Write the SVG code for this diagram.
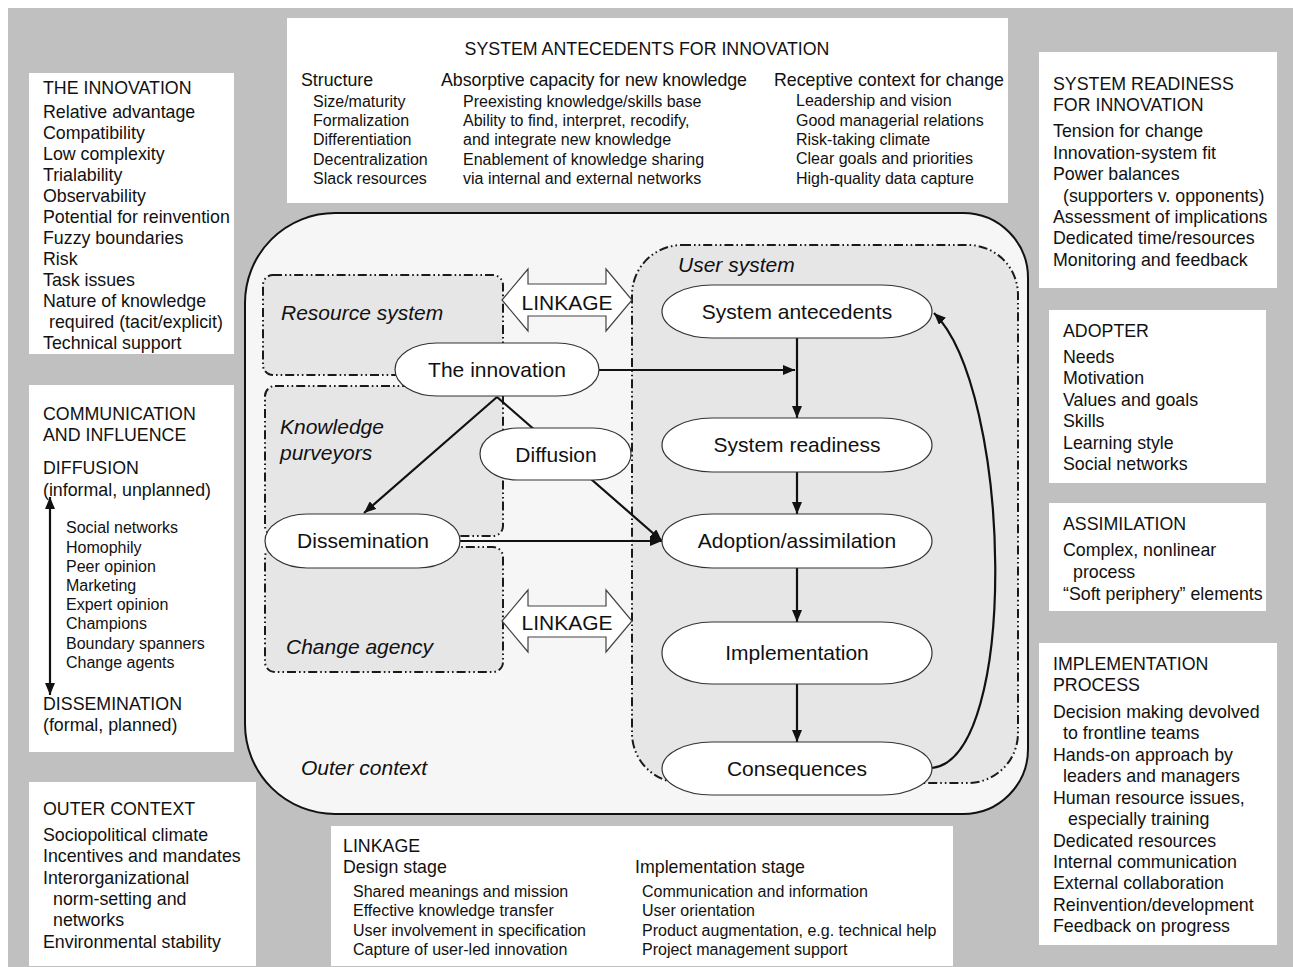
<svg xmlns="http://www.w3.org/2000/svg" width="1293" height="967" viewBox="0 0 1293 967">
<style>
text{font-family:"Liberation Sans",Arial,sans-serif;fill:#111}
.b{font-size:17.8px}
.s{font-size:16px}
.n{font-size:21px}
.i{font-size:21px;font-style:italic}
.box{fill:#fff;stroke:none}
.dd{fill:#e6e6e6;stroke:#1a1a1a;stroke-width:2;stroke-dasharray:9 3 1.6 3 1.6 3}
.pill{fill:#fff;stroke:#333;stroke-width:1.2}
.ar{stroke:#111;stroke-width:2.2;fill:none}
.lk{fill:#fff;stroke:#444;stroke-width:1.2}
</style>
<defs>
<marker id="ah" viewBox="0 0 12 10" refX="12" refY="5" markerWidth="12" markerHeight="10" markerUnits="userSpaceOnUse" orient="auto-start-reverse">
<path d="M0,0 L12,5 L0,10 z" fill="#111"/>
</marker>
</defs>
<rect x="8" y="8" width="1285" height="959" fill="#c0c0c0"/>

<g id="box-innovation">
<rect class="box" x="29" y="73" width="205" height="281"/>
<text class="b" x="43" y="94">THE INNOVATION</text>
<text class="b" x="43" y="118">Relative advantage</text>
<text class="b" x="43" y="139">Compatibility</text>
<text class="b" x="43" y="160">Low complexity</text>
<text class="b" x="43" y="181">Trialability</text>
<text class="b" x="43" y="202">Observability</text>
<text class="b" x="43" y="223">Potential for reinvention</text>
<text class="b" x="43" y="244">Fuzzy boundaries</text>
<text class="b" x="43" y="265">Risk</text>
<text class="b" x="43" y="286">Task issues</text>
<text class="b" x="43" y="307">Nature of knowledge</text>
<text class="b" x="49" y="328">required (tacit/explicit)</text>
<text class="b" x="43" y="349">Technical support</text>
</g>

<g id="box-communication">
<rect class="box" x="29" y="385" width="205" height="367"/>
<text class="b" x="43" y="420">COMMUNICATION</text>
<text class="b" x="43" y="441">AND INFLUENCE</text>
<text class="b" x="43" y="474">DIFFUSION</text>
<text class="b" x="43" y="496">(informal, unplanned)</text>
<text class="s" x="66" y="533">Social networks</text>
<text class="s" x="66" y="553">Homophily</text>
<text class="s" x="66" y="572">Peer opinion</text>
<text class="s" x="66" y="591">Marketing</text>
<text class="s" x="66" y="610">Expert opinion</text>
<text class="s" x="66" y="629">Champions</text>
<text class="s" x="66" y="649">Boundary spanners</text>
<text class="s" x="66" y="668">Change agents</text>
<text class="b" x="43" y="710">DISSEMINATION</text>
<text class="b" x="43" y="731">(formal, planned)</text>
<line class="ar" x1="50" y1="497" x2="50" y2="695" stroke-width="2" marker-start="url(#ah)" marker-end="url(#ah)"/>
</g>

<g id="box-outer-context">
<rect class="box" x="29" y="782" width="227" height="184"/>
<text class="b" x="43" y="815">OUTER CONTEXT</text>
<text class="b" x="43" y="841">Sociopolitical climate</text>
<text class="b" x="43" y="862">Incentives and mandates</text>
<text class="b" x="43" y="884">Interorganizational</text>
<text class="b" x="53" y="905">norm-setting and</text>
<text class="b" x="53" y="926">networks</text>
<text class="b" x="43" y="948">Environmental stability</text>
</g>

<g id="box-antecedents">
<rect class="box" x="287" y="18" width="721" height="185"/>
<text class="b" x="647" y="55" text-anchor="middle">SYSTEM ANTECEDENTS FOR INNOVATION</text>
<text class="b" x="301" y="86">Structure</text>
<text class="b" x="441" y="86" textLength="306">Absorptive capacity for new knowledge</text>
<text class="b" x="774" y="86" textLength="230">Receptive context for change</text>
<text class="s" x="313" y="107">Size/maturity</text>
<text class="s" x="313" y="126">Formalization</text>
<text class="s" x="313" y="145">Differentiation</text>
<text class="s" x="313" y="165">Decentralization</text>
<text class="s" x="313" y="184">Slack resources</text>
<text class="s" x="463" y="107">Preexisting knowledge/skills base</text>
<text class="s" x="463" y="126">Ability to find, interpret, recodify,</text>
<text class="s" x="463" y="145">and integrate new knowledge</text>
<text class="s" x="463" y="165">Enablement of knowledge sharing</text>
<text class="s" x="463" y="184">via internal and external networks</text>
<text class="s" x="796" y="106">Leadership and vision</text>
<text class="s" x="796" y="126">Good managerial relations</text>
<text class="s" x="796" y="145">Risk-taking climate</text>
<text class="s" x="796" y="164">Clear goals and priorities</text>
<text class="s" x="796" y="184">High-quality data capture</text>
</g>

<g id="box-readiness">
<rect class="box" x="1039" y="52" width="238" height="236"/>
<text class="b" x="1053" y="90">SYSTEM READINESS</text>
<text class="b" x="1053" y="111">FOR INNOVATION</text>
<text class="b" x="1053" y="137">Tension for change</text>
<text class="b" x="1053" y="159">Innovation-system fit</text>
<text class="b" x="1053" y="180">Power balances</text>
<text class="b" x="1063" y="202">(supporters v. opponents)</text>
<text class="b" x="1053" y="223">Assessment of implications</text>
<text class="b" x="1053" y="244">Dedicated time/resources</text>
<text class="b" x="1053" y="266">Monitoring and feedback</text>
</g>

<g id="box-adopter">
<rect class="box" x="1049" y="310" width="217" height="173"/>
<text class="b" x="1063" y="337">ADOPTER</text>
<text class="b" x="1063" y="363">Needs</text>
<text class="b" x="1063" y="384">Motivation</text>
<text class="b" x="1063" y="406">Values and goals</text>
<text class="b" x="1063" y="427">Skills</text>
<text class="b" x="1063" y="449">Learning style</text>
<text class="b" x="1063" y="470">Social networks</text>
</g>

<g id="box-assimilation">
<rect class="box" x="1049" y="503" width="217" height="108"/>
<text class="b" x="1063" y="530">ASSIMILATION</text>
<text class="b" x="1063" y="556">Complex, nonlinear</text>
<text class="b" x="1073" y="578">process</text>
<text class="b" x="1063" y="600">“Soft periphery” elements</text>
</g>

<g id="box-implementation">
<rect class="box" x="1039" y="643" width="238" height="302"/>
<text class="b" x="1053" y="670">IMPLEMENTATION</text>
<text class="b" x="1053" y="691">PROCESS</text>
<text class="b" x="1053" y="718">Decision making devolved</text>
<text class="b" x="1063" y="739">to frontline teams</text>
<text class="b" x="1053" y="761">Hands-on approach by</text>
<text class="b" x="1063" y="782">leaders and managers</text>
<text class="b" x="1053" y="804">Human resource issues,</text>
<text class="b" x="1068" y="825">especially training</text>
<text class="b" x="1053" y="847">Dedicated resources</text>
<text class="b" x="1053" y="868">Internal communication</text>
<text class="b" x="1053" y="889">External collaboration</text>
<text class="b" x="1053" y="911">Reinvention/development</text>
<text class="b" x="1053" y="932">Feedback on progress</text>
</g>

<g id="box-linkage">
<rect class="box" x="331" y="826" width="622" height="140"/>
<text class="b" x="343" y="852">LINKAGE</text>
<text class="b" x="343" y="873">Design stage</text>
<text class="s" x="353" y="897">Shared meanings and mission</text>
<text class="s" x="353" y="916">Effective knowledge transfer</text>
<text class="s" x="353" y="936">User involvement in specification</text>
<text class="s" x="353" y="955">Capture of user-led innovation</text>
<text class="b" x="635" y="873">Implementation stage</text>
<text class="s" x="642" y="897">Communication and information</text>
<text class="s" x="642" y="916">User orientation</text>
<text class="s" x="642" y="936">Product augmentation, e.g. technical help</text>
<text class="s" x="642" y="955">Project management support</text>
</g>

<g id="outer-context">
<path d="M335 213 H963 A65 65 0 0 1 1028 278 V749 A65 65 0 0 1 963 814 H335 A90 90 0 0 1 245 724 V303 A90 90 0 0 1 335 213 Z" fill="#f6f6f6" stroke="#111" stroke-width="2"/>
<text class="i" x="301" y="775">Outer context</text>
</g>

<g id="resource-system">
<rect class="dd" x="263" y="275" width="240" height="100" rx="10"/>
<text class="i" x="281" y="320">Resource system</text>
</g>
<g id="knowledge-purveyors">
<rect class="dd" x="265" y="386" width="238" height="150" rx="10"/>
<text class="i" x="280" y="434">Knowledge</text>
<text class="i" x="280" y="460">purveyors</text>
</g>
<g id="change-agency">
<rect class="dd" x="265" y="547" width="238" height="125" rx="10"/>
<text class="i" x="286" y="654">Change agency</text>
</g>
<g id="user-system">
<rect class="dd" x="632" y="245" width="386" height="538" rx="50"/>
<text class="i" x="678" y="272">User system</text>
</g>

<g id="linkage-arrows">
<polygon class="lk" points="502,300 528,269 528,284 606,284 606,269 632,300 606,331 606,316 528,316 528,331"/>
<text class="n" x="567" y="310" text-anchor="middle">LINKAGE</text>
<polygon class="lk" points="502,621 528,590 528,606 606,606 606,590 632,621 606,652 606,637 528,637 528,652"/>
<text class="n" x="567" y="630" text-anchor="middle">LINKAGE</text>
</g>

<g id="connectors">
<line class="ar" x1="599" y1="370" x2="795" y2="370" marker-end="url(#ah)"/>
<line class="ar" x1="497" y1="397" x2="364" y2="513" marker-end="url(#ah)"/>
<line class="ar" x1="497" y1="397" x2="662" y2="541" marker-end="url(#ah)"/>
<line class="ar" x1="460" y1="541" x2="662" y2="541" marker-end="url(#ah)"/>
<line class="ar" x1="797" y1="338" x2="797" y2="418" marker-end="url(#ah)"/>
<line class="ar" x1="797" y1="472" x2="797" y2="514" marker-end="url(#ah)"/>
<line class="ar" x1="797" y1="568" x2="797" y2="622" marker-end="url(#ah)"/>
<line class="ar" x1="797" y1="684" x2="797" y2="742" marker-end="url(#ah)"/>
<path class="ar" d="M932 768 C1020 758 1012 390 934 313" marker-end="url(#ah)"/>
</g>

<g id="node-innovation">
<rect class="pill" x="395" y="343" width="204" height="53" rx="42" ry="26.5"/>
<text class="n" x="497" y="377" text-anchor="middle">The innovation</text>
</g>
<g id="node-diffusion">
<rect class="pill" x="480" y="428" width="151" height="52" rx="38" ry="26"/>
<text class="n" x="556" y="462" text-anchor="middle">Diffusion</text>
</g>
<g id="node-dissemination">
<rect class="pill" x="265" y="514" width="195" height="54" rx="42" ry="27"/>
<text class="n" x="363" y="548" text-anchor="middle">Dissemination</text>
</g>
<g id="node-antecedents">
<rect class="pill" x="662" y="285" width="270" height="53" rx="50" ry="26.5"/>
<text class="n" x="797" y="319" text-anchor="middle">System antecedents</text>
</g>
<g id="node-readiness">
<rect class="pill" x="662" y="418" width="270" height="54" rx="50" ry="27"/>
<text class="n" x="797" y="452" text-anchor="middle">System readiness</text>
</g>
<g id="node-adoption">
<rect class="pill" x="662" y="514" width="270" height="54" rx="50" ry="27"/>
<text class="n" x="797" y="548" text-anchor="middle">Adoption/assimilation</text>
</g>
<g id="node-implementation">
<rect class="pill" x="662" y="622" width="270" height="62" rx="50" ry="31"/>
<text class="n" x="797" y="660" text-anchor="middle">Implementation</text>
</g>
<g id="node-consequences">
<rect class="pill" x="662" y="742" width="270" height="53" rx="50" ry="26.5"/>
<text class="n" x="797" y="776" text-anchor="middle">Consequences</text>
</g>
</svg>
